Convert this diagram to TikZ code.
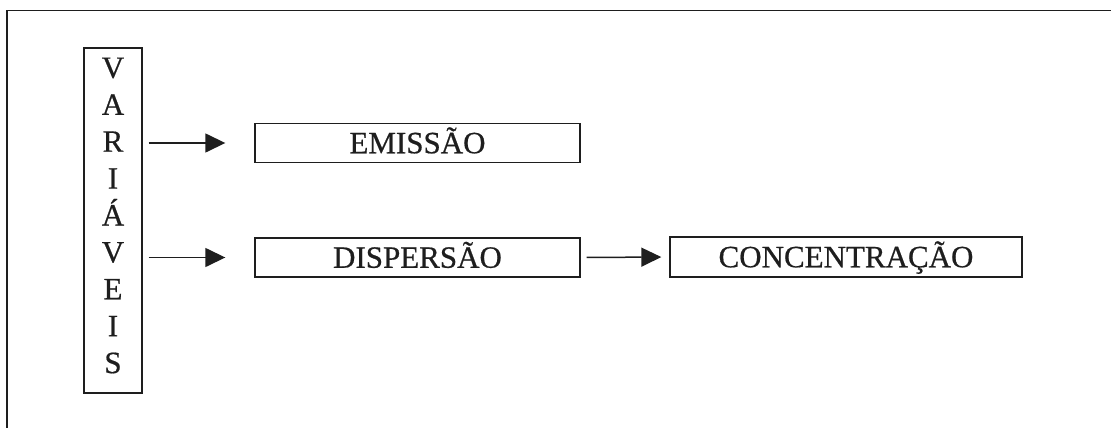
\documentclass[tikz,border=0pt]{standalone}
\usepackage{fontspec}
\setmainfont{Liberation Serif}[FakeBold=0.6]
\usetikzlibrary{arrows.meta}
\definecolor{ink}{HTML}{1E1E1E}
\begin{document}
\begin{tikzpicture}[x=1pt,y=-1pt,
  box/.style={draw=ink,line width=1.4pt,inner sep=0pt,text=ink,
    font=\fontsize{31}{37}\selectfont,text height=20.5pt,text depth=0pt},
  arr/.style={draw=ink,line width=1.5pt,-{Triangle[length=20pt,width=19pt]}},
  frame/.style={draw=ink,line width=1.8pt}]
\useasboundingbox (0,0) rectangle (1111,428);
\fill[white] (0,0) rectangle (1111,428);
% outer frame (cut by the page edges)
\coordinate (fbl) at (7,428);
\coordinate (ftl) at (7,10.5);
\coordinate (ftr) at (1111,10.5);
\draw[frame] (fbl) -- (ftl) -- (ftr);
% vertical box
\node[draw=ink,line width=1.4pt,minimum width=58pt,minimum height=345pt,inner sep=0pt] (var) at (113,220.5) {};
\node[text=ink,align=center,inner sep=0pt,font=\fontsize{31}{36.9}\selectfont] (varlabel) at (113,215.5)
  {V\\A\\R\\I\\Á\\V\\E\\I\\S};
% boxes
\node[box,minimum width=325pt,minimum height=38.5pt] (emi) at (417.5,143) {EMISSÃO};
\node[box,minimum width=325pt,minimum height=39pt] (disp) at (417.5,257.5) {DISPERSÃO};
\node[box,minimum width=352pt,minimum height=40pt] (conc) at (846,257) {CONCENTRAÇÃO};
% arrows
\draw[arr,shorten <=6pt,shorten >=29pt] (var.east |- emi.west) -- (emi.west);
\draw[arr,shorten <=6pt,shorten >=29pt] (var.east |- disp.west) -- (disp.west);
\draw[arr,shorten <=6pt,shorten >=8pt] (disp.east) -- (conc.west);
\end{tikzpicture}
\end{document}
